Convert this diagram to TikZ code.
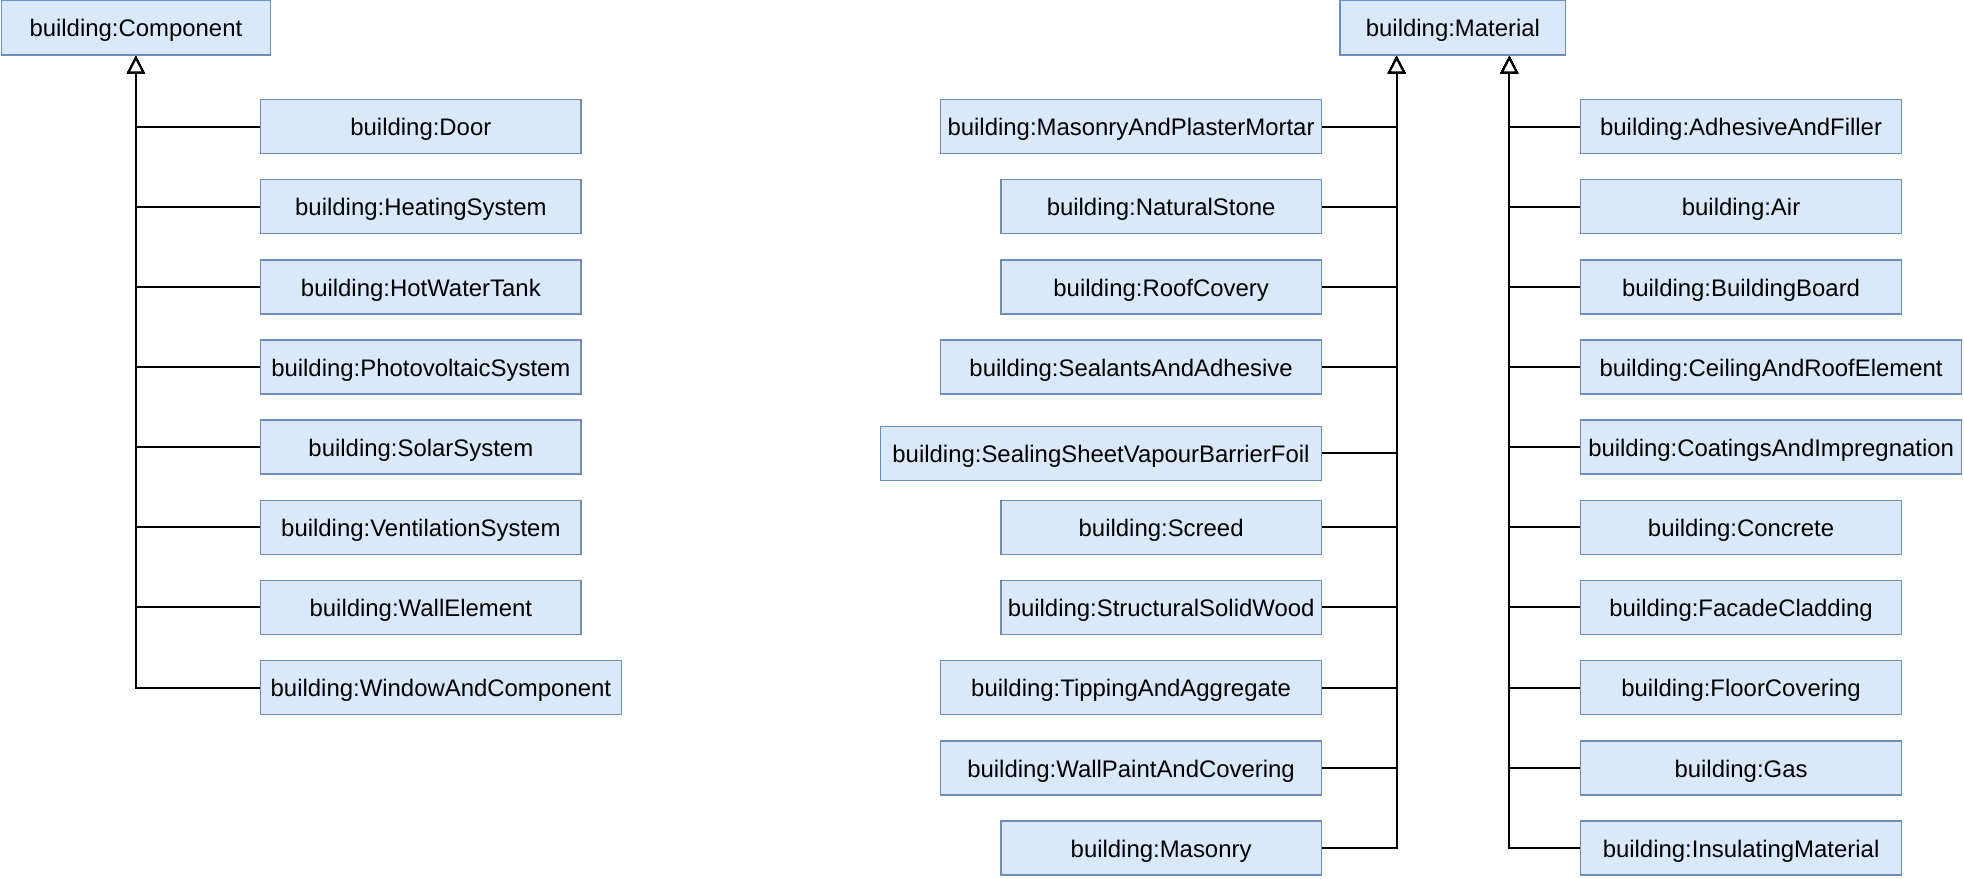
\documentclass[tikz,border=0pt]{standalone}
\usepackage{fontspec}
\setmainfont{Liberation Sans}
\usetikzlibrary{arrows.meta}
\definecolor{boxfill}{HTML}{DAE8FC}
\definecolor{boxline}{HTML}{6C8EBF}
\tikzset{
  cls/.style={draw=boxline, fill=boxfill, line width=0.6pt, inner sep=0pt,
    minimum height=21.5pt, text height=8.6pt, text depth=1.2pt,
    font=\fontsize{9.55pt}{11pt}\selectfont},
  w256/.style={cls, minimum width=128pt},
  w304/.style={cls, minimum width=152pt},
  gen/.style={line width=0.8pt, draw=black,
    -{Triangle[open, width=7pt, length=7pt, fill=white]}}
}
\begin{document}
\begin{tikzpicture}[x=0.5pt, y=-0.5pt]
\useasboundingbox (0,0) rectangle (1568,701);
% parents
\node[cls, minimum width=107.5pt, minimum height=22pt] (comp) at (108.5,22) {building:Component};
\node[cls, minimum width=90pt, minimum height=22pt] (mat) at (1160,22) {building:Material};
\path (mat.south) ++(-45,0) coordinate (ma);
\path (mat.south) ++(45,0) coordinate (mb);
% component children
\node[w256] (door) at (336,101) {building:Door};
\node[w256] (heat) at (336,165) {building:HeatingSystem};
\node[w256] (hwt) at (336,229) {building:HotWaterTank};
\node[w256] (pv) at (336,293) {building:PhotovoltaicSystem};
\node[w256] (solar) at (336,357) {building:SolarSystem};
\node[w256] (vent) at (336,421) {building:VentilationSystem};
\node[w256] (wall) at (336,485) {building:WallElement};
\node[cls, minimum width=144pt] (win) at (352,549) {building:WindowAndComponent};
% material children, left column
\node[w304] (mapm) at (903,101) {building:MasonryAndPlasterMortar};
\node[w256] (nst) at (927,165) {building:NaturalStone};
\node[w256] (roof) at (927,229) {building:RoofCovery};
\node[w304] (seal) at (903,293) {building:SealantsAndAdhesive};
\node[cls, minimum width=176pt] (ssvb) at (879,362) {building:SealingSheetVapourBarrierFoil};
\node[w256] (scr) at (927,421) {building:Screed};
\node[w256] (ssw) at (927,485) {building:StructuralSolidWood};
\node[w304] (tip) at (903,549) {building:TippingAndAggregate};
\node[w304] (wpc) at (903,613) {building:WallPaintAndCovering};
\node[w256] (mas) at (927,677) {building:Masonry};
% material children, right column
\node[w256] (adh) at (1390,101) {building:AdhesiveAndFiller};
\node[w256] (air) at (1390,165) {building:Air};
\node[w256] (bb) at (1390,229) {building:BuildingBoard};
\node[w304] (crf) at (1414,293) {building:CeilingAndRoofElement};
\node[w304] (coat) at (1414,357) {building:CoatingsAndImpregnation};
\node[w256] (conc) at (1390,421) {building:Concrete};
\node[w256] (fac) at (1390,485) {building:FacadeCladding};
\node[w256] (floor) at (1390,549) {building:FloorCovering};
\node[w256] (gas) at (1390,613) {building:Gas};
\node[w256] (ins) at (1390,677) {building:InsulatingMaterial};
% generalisation connectors
\foreach \c in {door,heat,hwt,pv,solar,vent,wall,win}
  \draw[gen] (\c.west) -| (comp.south);
\foreach \c in {mapm,nst,roof,seal,ssvb,scr,ssw,tip,wpc,mas}
  \draw[gen] (\c.east) -| (ma);
\foreach \c in {adh,air,bb,crf,coat,conc,fac,floor,gas,ins}
  \draw[gen] (\c.west) -| (mb);
\end{tikzpicture}
\end{document}
